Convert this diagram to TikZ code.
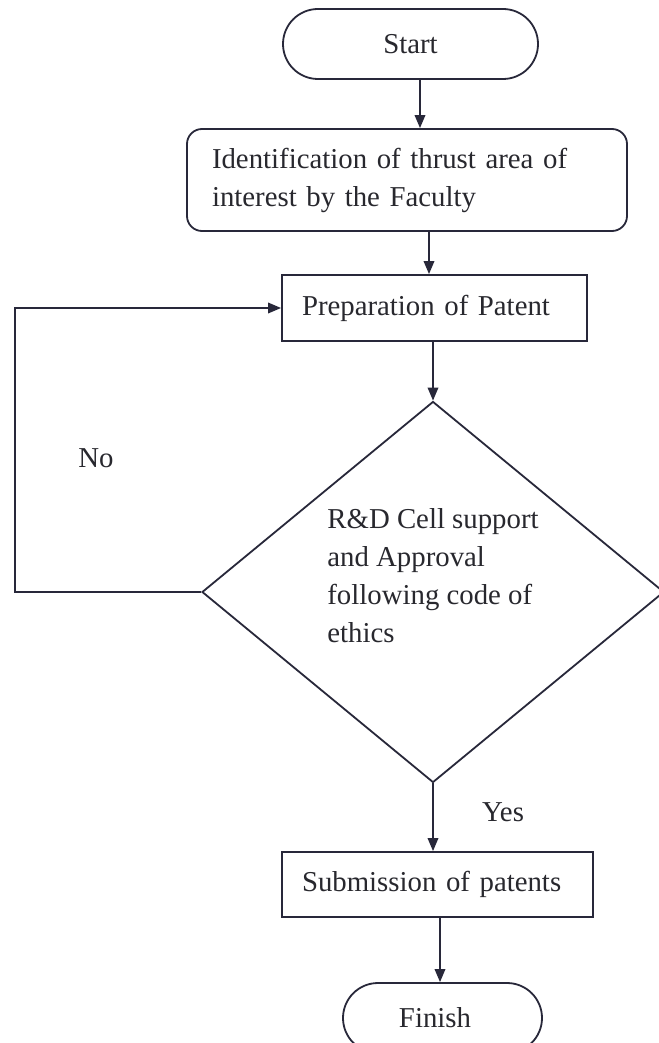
\documentclass[tikz,border=0pt]{standalone}
\usepackage{fontspec}
\setmainfont{Liberation Serif}
\usetikzlibrary{arrows.meta,shapes.geometric}
\definecolor{linec}{RGB}{40,40,58}
\definecolor{textc}{RGB}{40,40,46}
\begin{document}
\begin{tikzpicture}[x=1pt,y=-1pt,
  every node/.style={font=\fontsize{28.8}{38}\selectfont, text=textc},
  lin/.style={draw=linec, line width=1.8pt},
  arr/.style={lin, -{Triangle[length=13pt,width=10.5pt]}},
  term/.style={lin, rounded corners=35pt, minimum height=70pt, inner sep=0pt},
  procbox/.style={lin, inner xsep=20pt, align=left},
]
\path[use as bounding box, fill=white] (0,0) rectangle (658,1043);

\node[term, minimum width=255pt] (start) at (410.5,44) {Start};
\node[lin, rounded corners=15pt, minimum width=440pt, minimum height=102pt,
      text width=390pt, inner xsep=25pt, align=left] (ident) at (407,180)
      {Identification of thrust area of\\interest by the Faculty};
\node[procbox, minimum width=305pt, minimum height=66pt, text width=265pt] (prep) at (434.5,308)
      {Preparation of Patent};
\node[lin, diamond, minimum width=462pt, minimum height=381pt, inner sep=0pt] (dec) at (433,592) {};
\node[align=left, inner sep=0pt] (dtext) at (433,576)
      {R\&D Cell support\\and Approval\\following code of\\ethics};
\node[inner sep=0pt] (no) at (96,458) {No};
\node[inner sep=0pt] (yes) at (503,812) {Yes};
\node[procbox, minimum width=311pt, minimum height=65pt, text width=271pt] (sub) at (437.5,884.5)
      {Submission of patents};
\node[term, minimum width=199pt] (fin) at (442.5,1018) {Finish\hspace*{15pt}};

\coordinate (lp) at (15,308);
\draw[arr] ([xshift=9.5pt]start.south) -- ([xshift=13pt]ident.north);
\draw[arr] ([xshift=22pt]ident.south) -- ([xshift=-5.5pt]prep.north);
\draw[arr] (prep.south -| dec.north) -- (dec.north);
\draw[arr] (dec.south) -- (dec.south |- sub.north);
\draw[arr] ([xshift=2.5pt]sub.south) -- ([xshift=-2.5pt]fin.north);
\draw[arr] (dec.west) -- (dec.west -| lp) -- (lp) -- (prep.west);
\end{tikzpicture}
\end{document}
